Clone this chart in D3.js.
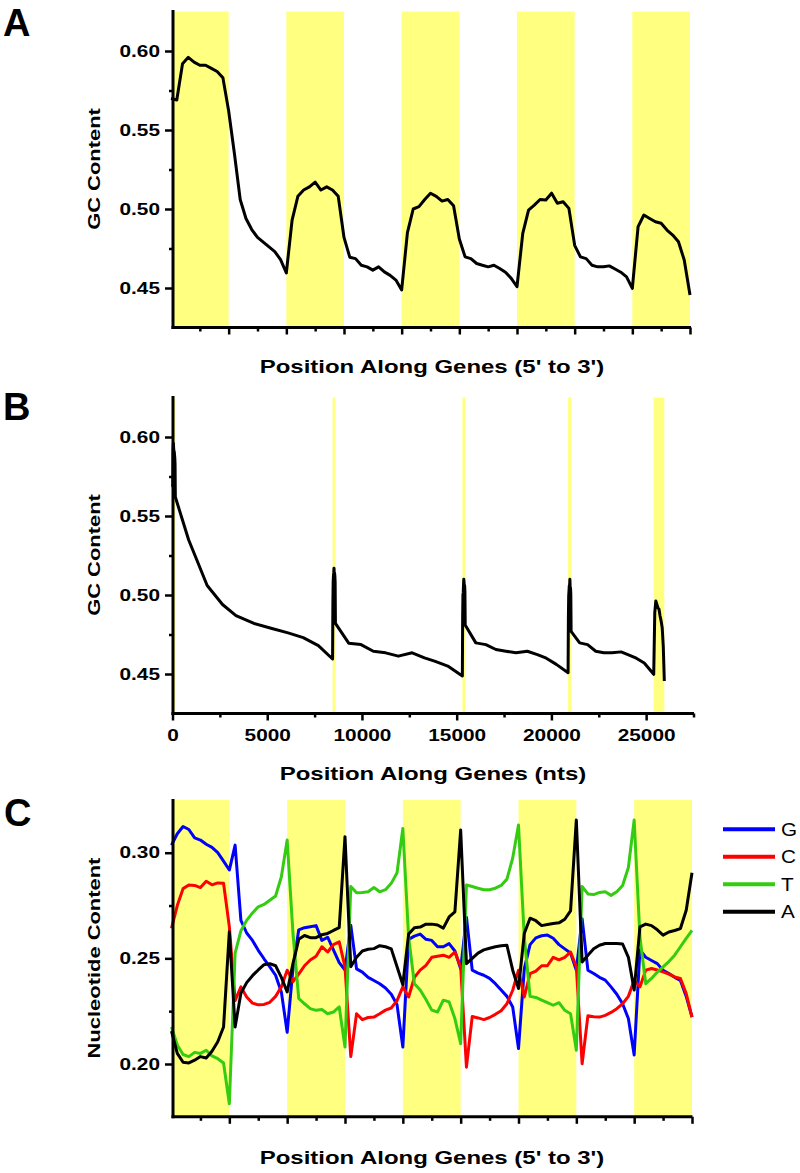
<!DOCTYPE html>
<html><head><meta charset="utf-8">
<script src="https://cdn.jsdelivr.net/npm/d3@7"></script>
<style>
body{margin:0;background:#fff}
</style></head><body>
<svg id="chart" width="800" height="1173"></svg>
<script>
// ---------------- DATA ----------------
// GC content profile (10 bins per region; regions: exon1, intron1, exon2, ... exon5)
const gcContent = [
  0.570, 0.569, 0.592, 0.596, 0.593, 0.591, 0.591, 0.589, 0.587, 0.583,
  0.562, 0.535, 0.506, 0.494, 0.487, 0.482, 0.479, 0.476, 0.473, 0.468,
  0.4595, 0.493, 0.508, 0.512, 0.514, 0.517, 0.512, 0.514, 0.512, 0.508,
  0.482, 0.4695, 0.4686, 0.4644, 0.4634, 0.4613, 0.4634, 0.4602, 0.458, 0.455,
  0.4488, 0.485, 0.500, 0.5015, 0.506, 0.510, 0.508, 0.505, 0.506, 0.502,
  0.481, 0.4697, 0.4686, 0.4655, 0.4644, 0.4634, 0.4644, 0.4623, 0.460, 0.4561,
  0.4508, 0.4846, 0.4993, 0.5025, 0.506, 0.5057, 0.510, 0.5036, 0.5046, 0.5004,
  0.477, 0.4697, 0.4686, 0.4644, 0.4634, 0.4634, 0.464, 0.462, 0.460, 0.457,
  0.4498, 0.4888, 0.4962, 0.494, 0.4919, 0.491, 0.4867, 0.4835, 0.4793, 0.4677,
  0.4456
];
// average position (nts) of each bin along the gene (panel B)
const positionNts = [
  0, 15, 30, 45, 60, 75, 90, 105, 120, 135,
  150, 850, 1830, 2640, 3350, 4300, 5200, 6100, 6900, 7700,
  8450, 8465, 8480, 8495, 8510, 8525, 8540, 8555, 8570, 8585,
  8600, 9300, 9950, 10600, 11250, 11920, 12650, 13300, 13870, 14530,
  15300, 15315, 15330, 15345, 15360, 15375, 15390, 15405, 15420, 15435,
  15450, 16010, 16540, 17070, 17600, 18130, 18730, 19260, 19730, 20260,
  20880, 20896, 20912, 20928, 20944, 20960, 20976, 20992, 21008, 21024,
  21040, 21490, 21910, 22340, 22770, 23190, 23680, 24100, 24480, 24900,
  25400, 25456, 25512, 25568, 25624, 25680, 25736, 25792, 25848, 25904,
  25960
];
const nucG = [
  0.3036, 0.309, 0.3124, 0.311, 0.307, 0.306, 0.304, 0.3025, 0.300, 0.296,
  0.2918, 0.3036, 0.268, 0.262, 0.2585, 0.2538, 0.2498, 0.246, 0.242, 0.234,
  0.215, 0.245, 0.2635, 0.2645, 0.265, 0.2655, 0.2585, 0.260, 0.254, 0.248,
  0.2445, 0.2657, 0.245, 0.2435, 0.241, 0.2395, 0.238, 0.236, 0.233, 0.228,
  0.208, 0.259, 0.2605, 0.2615, 0.259, 0.2585, 0.2555, 0.2555, 0.257, 0.2535,
  0.245, 0.2695, 0.2444, 0.243, 0.242, 0.2405, 0.238, 0.235, 0.232, 0.227,
  0.2073, 0.245, 0.2565, 0.2597, 0.2607, 0.261, 0.2595, 0.2565, 0.2545, 0.2525,
  0.2444, 0.2688, 0.2444, 0.2428, 0.241, 0.2397, 0.2365, 0.233, 0.2285, 0.2215,
  0.2043, 0.254, 0.2505, 0.249, 0.2475, 0.2444, 0.2428, 0.241, 0.2395, 0.232,
  0.2222
];
const nucC = [
  0.2642, 0.275, 0.283, 0.2847, 0.2845, 0.2835, 0.2865, 0.2848, 0.2857, 0.2855,
  0.265, 0.230, 0.2365, 0.2317, 0.2288, 0.228, 0.2282, 0.2292, 0.232, 0.2365,
  0.2444, 0.239, 0.2425, 0.2465, 0.2492, 0.251, 0.2555, 0.253, 0.2565, 0.2578,
  0.246, 0.2035, 0.2238, 0.221, 0.222, 0.2222, 0.2238, 0.2255, 0.2265, 0.230,
  0.2365, 0.2317, 0.241, 0.2444, 0.2467, 0.2505, 0.251, 0.2515, 0.2505, 0.253,
  0.246, 0.1985, 0.2225, 0.2218, 0.221, 0.222, 0.2235, 0.2252, 0.2285, 0.2349,
  0.2444, 0.2317, 0.2428, 0.244, 0.2465, 0.2465, 0.2505, 0.2493, 0.2505, 0.253,
  0.246, 0.2001, 0.2228, 0.2224, 0.2222, 0.223, 0.2244, 0.2262, 0.2285, 0.232,
  0.2396, 0.2365, 0.2444, 0.2452, 0.2445, 0.2436, 0.2425, 0.2412, 0.2405, 0.2333,
  0.2222
];
const nucT = [
  0.2175, 0.209, 0.2045, 0.2035, 0.2055, 0.205, 0.2065, 0.2038, 0.2025, 0.2005,
  0.1812, 0.2525, 0.263, 0.268, 0.2715, 0.2744, 0.2755, 0.2775, 0.2795, 0.2886,
  0.306, 0.262, 0.231, 0.2285, 0.2262, 0.2254, 0.2258, 0.2238, 0.2246, 0.227,
  0.208, 0.284, 0.281, 0.2812, 0.2815, 0.2835, 0.2815, 0.2825, 0.2855, 0.2905,
  0.3115, 0.26, 0.238, 0.235, 0.2305, 0.2255, 0.2246, 0.2302, 0.2294, 0.2215,
  0.2096, 0.2847, 0.284, 0.2832, 0.2825, 0.2825, 0.2832, 0.2845, 0.2875, 0.2975,
  0.3131, 0.26, 0.232, 0.2315, 0.2302, 0.229, 0.2278, 0.229, 0.2254, 0.2238,
  0.2065, 0.284, 0.2805, 0.2802, 0.2812, 0.2815, 0.2798, 0.2815, 0.2845, 0.293,
  0.3155, 0.26, 0.238, 0.2405, 0.2435, 0.246, 0.2485, 0.2515, 0.2555, 0.2595,
  0.2633
];
const nucA = [
  0.2155, 0.205, 0.2008, 0.2005, 0.2018, 0.2035, 0.2028, 0.206, 0.2105, 0.2175,
  0.2626, 0.2175, 0.2335, 0.2385, 0.2418, 0.2445, 0.247, 0.2475, 0.2465, 0.241,
  0.2341, 0.2475, 0.259, 0.2608, 0.2598, 0.2598, 0.2612, 0.2618, 0.2632, 0.2645,
  0.3076, 0.246, 0.2505, 0.2535, 0.2543, 0.2546, 0.256, 0.2555, 0.2545, 0.246,
  0.2375, 0.2615, 0.2645, 0.2648, 0.2662, 0.2662, 0.2658, 0.2643, 0.2696, 0.272,
  0.3107, 0.2475, 0.25, 0.2525, 0.254, 0.2548, 0.2555, 0.256, 0.2562, 0.2444,
  0.2357, 0.2618, 0.269, 0.2678, 0.2655, 0.266, 0.2665, 0.2668, 0.2685, 0.2725,
  0.3155, 0.2483, 0.2515, 0.2545, 0.2562, 0.257, 0.257, 0.257, 0.2568, 0.2505,
  0.235, 0.2649, 0.2662, 0.2655, 0.2635, 0.261, 0.2625, 0.2632, 0.2641, 0.2728,
  0.2905
];
const exonRegions = [[0,1],[2,3],[4,5],[6,7],[8,9]];
const exonNts = [[0,150],[8450,8600],[15300,15450],[20880,21040],[25400,25960]];
const regionMajorTicks = [1,2,3,4,5,6,7,8,9];
const regionMinorTicks = [0.5,1.5,2.5,3.5,4.5,5.5,6.5,7.5,8.5];
const gcTicks = [0.45,0.50,0.55,0.60];
const gcMinorTicks = [0.475,0.525,0.575];
const ntsTicks = [0,5000,10000,15000,20000,25000];
const ntsMinorTicks = [2500,7500,12500,17500,22500,27500];
const nucTicks = [0.20,0.25,0.30];
const nucMinorTicks = [0.225,0.275];
const seriesNames = ["G","C","T","A"];
const seriesColors = ["#0000ff","#ff0000","#33cc11","#000000"];

// ---------------- DRAW ----------------
const FONT = '"Liberation Sans", Arial, sans-serif';
const SX = 1.3;   // horizontal stretch of tick labels
const TSX = 1.37; // horizontal stretch of axis titles
const YELLOW = "#ffff80";
const svg = d3.select("#chart");

function text(x, y, str, size, weight, anchor, sx, rotate) {
  return svg.append("text")
    .attr("transform", `translate(${x},${y})` + (rotate ? " rotate(-90)" : "") + ` scale(${sx},1)`)
    .attr("text-anchor", anchor)
    .attr("font-family", FONT).attr("font-size", size).attr("font-weight", weight)
    .attr("fill", "#000").text(str);
}

function yAxis(x0, y, major, minor, fmt) {
  const g = svg.append("g").attr("transform", `translate(${x0},0)`)
    .call(d3.axisLeft(y).tickValues(major).tickSize(8).tickSizeOuter(0).tickFormat(fmt));
  g.select(".domain").remove();
  g.selectAll(".tick line").attr("stroke", "#000").attr("stroke-width", 2.5);
  g.selectAll(".tick text").attr("font-family", FONT).attr("font-size", 16).attr("font-weight", "bold")
    .attr("fill", "#000").attr("x", -13 / SX).attr("transform", `scale(${SX},1)`);
  const m = svg.append("g").attr("transform", `translate(${x0},0)`)
    .call(d3.axisLeft(y).tickValues(minor).tickSize(4).tickSizeOuter(0).tickFormat(""));
  m.select(".domain").remove();
  m.selectAll(".tick line").attr("stroke", "#000").attr("stroke-width", 2.5);
}

function xAxis(y0, x, major, minor, fmt) {
  const g = svg.append("g").attr("transform", `translate(0,${y0})`)
    .call(d3.axisBottom(x).tickValues(major).tickSize(7).tickPadding(9).tickSizeOuter(0).tickFormat(fmt || ""));
  g.select(".domain").remove();
  g.selectAll(".tick line").attr("stroke", "#000").attr("stroke-width", 2.5);
  g.selectAll(".tick text").attr("font-family", FONT).attr("font-size", 16).attr("font-weight", "bold")
    .attr("fill", "#000").attr("transform", `scale(${SX},1)`);
  const m = svg.append("g").attr("transform", `translate(0,${y0})`)
    .call(d3.axisBottom(x).tickValues(minor).tickSize(4).tickSizeOuter(0).tickFormat(""));
  m.select(".domain").remove();
  m.selectAll(".tick line").attr("stroke", "#000").attr("stroke-width", 2.5);
}

function frame(x0, x1, yTop, yBot) {
  svg.append("line").attr("x1", x0).attr("x2", x0).attr("y1", yTop).attr("y2", yBot + 1.5)
    .attr("stroke", "#000").attr("stroke-width", 3);
  svg.append("line").attr("x1", x0 - 1.5).attr("x2", x1).attr("y1", yBot).attr("y2", yBot)
    .attr("stroke", "#000").attr("stroke-width", 3);
}

function bands(x, y, list) {
  const [y0, y1] = y.range();
  svg.append("g").selectAll("rect").data(list).join("rect")
    .attr("x", d => Math.max(x(d[0]), 173)).attr("width", d => x(d[1]) - Math.max(x(d[0]), 173))
    .attr("y", y1).attr("height", y0 - y1).attr("fill", YELLOW);
}

const AXX = 173;
const fmt2 = d3.format(".2f");

// ===== Panel A =====
{
  const x = d3.scaleLinear().domain([0, 9]).range([171, 690]);
  const y = d3.scaleLinear().domain([0.425, 0.625]).range([327.5, 11.5]);
  bands(x, y, exonRegions);
  svg.append("path").datum(gcContent)
    .attr("d", d3.line().x((d, i) => x(i / 10)).y(d => y(d)))
    .attr("fill", "none").attr("stroke", "#000").attr("stroke-width", 3).attr("stroke-linejoin", "round");
  yAxis(AXX, y, gcTicks, gcMinorTicks, fmt2);
  xAxis(327.5, x, regionMajorTicks, regionMinorTicks, null);
  frame(AXX, 691, 10, 327.5);
  text(432, 373, "Position Along Genes (5' to 3')", 17.5, "bold", "middle", TSX);
  text(100, 169, "GC Content", 16, "bold", "middle", TSX, true);
  text(3, 36, "A", 38, "bold", "start", 1);
}

// ===== Panel B =====
{
  const x = d3.scaleLinear().domain([0, 27500]).range([172.5, 693.5]);
  const y = d3.scaleLinear().domain([0.425, 0.625]).range([713.5, 397.5]);
  bands(x, y, exonNts);
  svg.append("path").datum(gcContent)
    .attr("d", d3.line().x((d, i) => x(positionNts[i])).y(d => y(d)))
    .attr("fill", "none").attr("stroke", "#000").attr("stroke-width", 3).attr("stroke-linejoin", "round");
  yAxis(AXX, y, gcTicks, gcMinorTicks, fmt2);
  xAxis(713.5, x, ntsTicks, ntsMinorTicks, d3.format("d"));
  frame(AXX, 694, 396, 713.5);
  text(433, 780, "Position Along Genes (nts)", 17.5, "bold", "middle", TSX);
  text(100, 555, "GC Content", 16, "bold", "middle", TSX, true);
  text(3, 420, "B", 38, "bold", "start", 1);
}

// ===== Panel C =====
{
  const x = d3.scaleLinear().domain([0, 9]).range([171.5, 692]);
  const y = d3.scaleLinear().domain([0.175, 0.325]).range([1116.8, 799.9]);
  bands(x, y, exonRegions);
  const series = [nucG, nucC, nucT, nucA];
  series.forEach((s, k) => {
    svg.append("path").datum(s)
      .attr("d", d3.line().x((d, i) => x(i / 10)).y(d => y(d)))
      .attr("fill", "none").attr("stroke", seriesColors[k]).attr("stroke-width", 3)
      .attr("stroke-linejoin", "round");
  });
  yAxis(AXX, y, nucTicks, nucMinorTicks, fmt2);
  xAxis(1116.8, x, regionMajorTicks, regionMinorTicks, null);
  frame(AXX, 692.5, 799, 1116.8);
  text(432, 1164, "Position Along Genes (5' to 3')", 17.5, "bold", "middle", TSX);
  text(100, 958, "Nucleotide Content", 16, "bold", "middle", TSX, true);
  text(4, 826, "C", 38, "bold", "start", 1);

  // legend
  const legY = d3.scalePoint().domain(seriesNames).range([829.3, 911.7]);
  const lg = svg.append("g");
  seriesNames.forEach((n, k) => {
    lg.append("line").attr("x1", 723).attr("x2", 775).attr("y1", legY(n)).attr("y2", legY(n))
      .attr("stroke", seriesColors[k]).attr("stroke-width", 4);
  });
  seriesNames.forEach(n => text(781, legY(n) + 6.5, n, 18, "normal", "start", 1.15));
}
</script>
</body></html>
